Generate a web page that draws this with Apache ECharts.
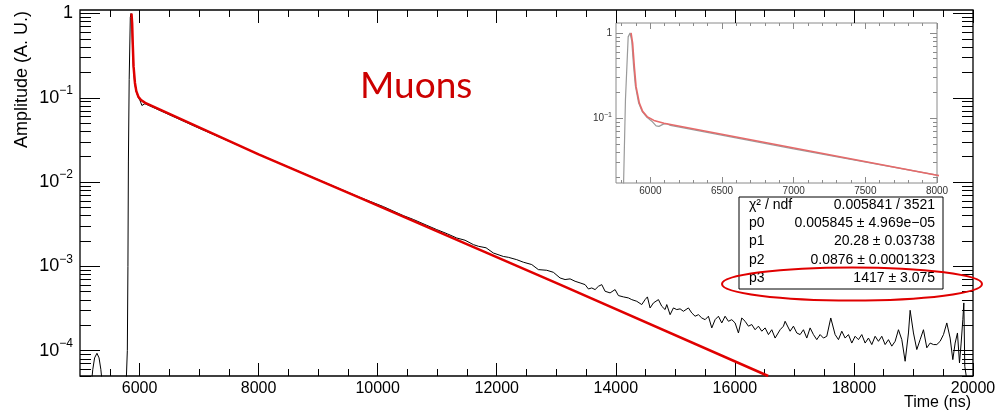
<!DOCTYPE html>
<html>
<head>
<meta charset="utf-8">
<title>Muons</title>
<script src="https://cdn.jsdelivr.net/npm/echarts@6.0.0/dist/echarts.min.js"></script>
<style>
html, body { margin: 0; padding: 0; background: #fff; }
#chart { width: 998px; height: 410px; }
</style>
</head>
<body>
<div id="chart"></div>
<script>
// waveform (black trace), time in ns, amplitude in A.U.
const traceTime = [
  5100, 5190, 5215, 5245, 5285, 5320, 5350, 5375, 5775, 5795, 5805, 5813, 5826, 5845, 5858,
  5870, 5882, 5895, 5918, 5942, 5976, 6010, 6040, 6060, 6090, 6115, 6140, 7000, 8000, 9000,
  9700, 10100, 10431, 10600, 10824, 10992, 11171, 11328, 11468, 11608, 11692, 11821, 11943, 12111, 12195,
  12336, 12447, 12588, 12699, 12840, 12951,
  13064, 13148, 13232, 13316, 13400, 13484, 13540, 13596, 13652, 13708, 13764, 13820, 13904, 13988, 14044,
  14128, 14212, 14268, 14352, 14436, 14492, 14531, 14576, 14632, 14716, 14772, 14828, 14856, 14912, 14968,
  15024, 15080, 15136, 15220, 15276, 15332, 15388, 15444, 15500, 15556, 15612, 15668, 15724, 15780, 15836,
  15892, 15948, 16004, 16060, 16116, 16172, 16228, 16284, 16340, 16396, 16452, 16508, 16564, 16620, 16676,
  16760, 16816, 16844, 16872, 16928, 16984, 17040, 17096, 17152, 17208, 17264, 17320, 17376, 17432, 17488,
  17544, 17611, 17684, 17740, 17796, 17852, 17908, 17964, 18020, 18076, 18132, 18188, 18244, 18300, 18356,
  18412, 18468, 18524, 18580, 18636, 18692, 18748, 18804, 18860, 18916, 18944, 19000, 19056, 19112, 19168,
  19224, 19280, 19336, 19392, 19448, 19504, 19560, 19616, 19661, 19700, 19739, 19773, 19801, 19829, 19846,
  19862, 19896
]
const traceAmp = [
  4e-5, 4e-5, 6e-5, 8.2e-5, 9.3e-5, 8.2e-5, 6e-5, 4e-5, 4e-5, 1e-4, 1e-3, 0.0173, 0.164, 0.9, 1.0,
  0.8, 0.42, 0.24, 0.15, 0.12, 0.102, 0.092, 0.081, 0.08, 0.085, 0.086, 0.082, 0.0435, 0.0214, 0.0107,
  0.0066, 0.0051, 0.0040, 0.0036, 0.00307, 0.00273, 0.00243, 0.00217, 0.00204, 0.00181, 0.00173, 0.00166, 0.00144, 0.00131, 0.00128,
  0.0012, 0.00112, 0.00105, 0.000915, 0.000898, 0.00085,
  7.28e-4, 6.97e-4, 7.10e-4, 6.65e-4, 6.36e-4, 6.07e-4, 5.39e-4, 5.54e-4, 5.30e-4, 5.80e-4, 6.07e-4, 5.06e-4, 4.84e-4, 5.30e-4, 4.50e-4,
  4.34e-4, 4.22e-4, 4.03e-4, 3.85e-4, 3.52e-4, 4.03e-4, 4.34e-4, 3.21e-4, 3.68e-4, 4.03e-4, 3.36e-4, 3.07e-4, 3.52e-4, 2.67e-4, 3.21e-4,
  3.07e-4, 3.13e-4, 2.93e-4, 3.21e-4, 2.80e-4, 2.56e-4, 2.67e-4, 2.44e-4, 2.33e-4, 2.56e-4, 1.86e-4, 2.33e-4, 2.56e-4, 2.13e-4, 2.56e-4,
  2.23e-4, 2.33e-4, 2.13e-4, 1.62e-4, 2.44e-4, 2.23e-4, 1.95e-4, 2.04e-4, 1.77e-4, 1.95e-4, 1.70e-4, 1.86e-4, 1.55e-4, 1.77e-4, 1.41e-4,
  1.77e-4, 1.95e-4, 2.23e-4, 2.13e-4, 1.70e-4, 1.95e-4, 1.62e-4, 1.55e-4, 1.77e-4, 1.41e-4, 1.86e-4, 1.55e-4, 1.35e-4, 1.55e-4, 1.41e-4,
  1.48e-4, 2.44e-4, 1.55e-4, 1.35e-4, 1.70e-4, 1.41e-4, 1.55e-4, 1.23e-4, 1.48e-4, 1.35e-4, 1.55e-4, 1.23e-4, 1.41e-4, 1.18e-4, 1.48e-4,
  1.29e-4, 1.48e-4, 1.18e-4, 1.35e-4, 1.13e-4, 1.29e-4, 1.77e-4, 1.35e-4, 7.48e-5, 1.62e-4, 3.01e-4, 1.62e-4, 1.03e-4, 1.35e-4, 1.77e-4,
  1.08e-4, 1.23e-4, 1.18e-4, 1.18e-4, 1.29e-4, 1.55e-4, 2.13e-4, 1.41e-4, 7.82e-5, 1.23e-4, 1.62e-4, 7.14e-5, 1.23e-4, 2.33e-4, 3.68e-4,
  6.52e-5, 4.5e-5
]

// fit (red curve)
const fitTime = [5865, 5876, 5888, 5900, 5923, 5946, 5980, 6025, 6095, 8000, 9704, 13064, 16560]
const fitAmp = [1.0, 0.76, 0.40, 0.234, 0.15, 0.12, 0.103, 0.094, 0.087, 0.0213, 0.0065, 6.07e-4, 5.0e-5]

// tick labels
const xTickLabels = [6000, 8000, 10000, 12000, 14000, 16000, 18000, 20000]
const yTickLabels = [1e-4, 1e-3, 1e-2, 1e-1, 1]
const insetXTickLabels = [6000, 6500, 7000, 7500, 8000]
const insetYTickLabels = [0.1, 1]

// fit results box
const statNames = ['χ² / ndf', 'p0', 'p1', 'p2', 'p3']
const statValues = ['0.005841 / 3521', '0.005845 ± 4.969e−05', '20.28 ± 0.03738', '0.0876 ± 0.0001323', '1417 ± 3.075']

const FONT = 'Liberation Sans'

const traceData = traceTime.map((t, i) => [t, traceAmp[i]])
const fitData = fitTime.map((t, i) => [t, fitAmp[i]])

// 10^n labels
const powLabel = v => {
  const e = Math.round(Math.log10(v))
  return e === 0 ? '{b|1}' : '{b|10}{s|−' + (-e) + '}'
}
// plain numbers, no thousands separator
const plainLabel = v => String(Math.round(v))

// minor ticks 2..9 x 10^n on a log axis
const logMinors = (lo, hi) => {
  const out = []
  for (let e = Math.floor(Math.log10(lo)) - 1; e <= Math.ceil(Math.log10(hi)); e++) {
    for (let m = 2; m <= 9; m++) {
      const v = m * Math.pow(10, e)
      if (v >= lo && v <= hi) out.push(v)
    }
  }
  return out
}

const range = (lo, hi, step) => {
  const out = []
  for (let v = lo; v <= hi + 1e-9; v += step) out.push(v)
  return out
}

// four axes per dimension: major/minor ticks on both sides, labels only on the first
const makeAxes = (type, sides, grid, min, max, major, minor, majorLen, minorLen, color, label) => {
  const mk = (position, ticks, len, withLabel) => ({
    type, gridIndex: grid, position, min, max,
    axisLine: { show: false, onZero: false },
    axisTick: { show: true, inside: true, length: len, customValues: ticks, lineStyle: { color, width: 1 } },
    axisLabel: withLabel ? Object.assign({ show: true, customValues: major }, label) : { show: false },
    splitLine: { show: false },
    axisPointer: { show: false }
  })
  return [
    mk(sides[0], major, majorLen, true),
    mk(sides[0], minor, minorLen, false),
    mk(sides[1], major, majorLen, false),
    mk(sides[1], minor, minorLen, false)
  ]
}

const mainX = makeAxes('value', ['bottom', 'top'], 0, 5000, 20000, xTickLabels, range(5500, 20000, 500), 13, 7, '#000', {
  fontFamily: FONT, fontSize: 16, color: '#000', margin: 5, formatter: plainLabel
})
const mainY = makeAxes('log', ['left', 'right'], 0, 5e-5, 1.1, yTickLabels, logMinors(5e-5, 1.1), 20, 11, '#000', {
  margin: 7,
  formatter: powLabel,
  rich: {
    b: { fontFamily: FONT, fontSize: 18, color: '#000', lineHeight: 26 },
    s: { fontFamily: FONT, fontSize: 12, color: '#000', lineHeight: 12, verticalAlign: 'top' }
  }
})
const insetX = makeAxes('value', ['bottom', 'top'], 1, 5760, 8000, insetXTickLabels, range(5800, 8000, 100), 6, 3, '#8a8a8a', {
  fontFamily: FONT, fontSize: 10, color: '#333', margin: 3, formatter: plainLabel
})
const insetY = makeAxes('log', ['left', 'right'], 1, 0.0173, 1.31, insetYTickLabels, logMinors(0.0173, 1.31), 7, 4, '#8a8a8a', {
  margin: 4,
  formatter: powLabel,
  rich: {
    b: { fontFamily: FONT, fontSize: 10, color: '#333', lineHeight: 14 },
    s: { fontFamily: FONT, fontSize: 7, color: '#333', lineHeight: 7, verticalAlign: 'top' }
  }
})

const statsGraphics = [
  { type: 'rect', z: 50, shape: { x: 739, y: 197, width: 204, height: 92 }, style: { fill: '#fff', stroke: '#000', lineWidth: 1 } }
]
statNames.forEach((name, i) => {
  const y = 205 + i * 18.3
  statsGraphics.push({
    type: 'text', z: 51, x: 749, y,
    style: { text: name, font: '14px "' + FONT + '"', fill: '#000', align: 'left', textAlign: 'left', verticalAlign: 'middle', textVerticalAlign: 'middle' }
  })
  statsGraphics.push({
    type: 'text', z: 51, x: 935, y,
    style: { text: statValues[i], font: '14px "' + FONT + '"', fill: '#000', align: 'right', textAlign: 'right', verticalAlign: 'middle', textVerticalAlign: 'middle' }
  })
})

const chart = echarts.init(document.getElementById('chart'), null, { renderer: 'canvas' })

chart.setOption({
  animation: false,
  backgroundColor: '#fff',
  grid: [
    { left: 80, top: 10, width: 893, height: 366, show: true, borderColor: '#000', borderWidth: 1.3, backgroundColor: 'transparent', outerBoundsMode: 'none' },
    { left: 616, top: 23, width: 321, height: 160, show: true, borderColor: '#8a8a8a', borderWidth: 1, backgroundColor: '#fff', outerBoundsMode: 'none' }
  ],
  xAxis: mainX.concat(insetX),
  yAxis: mainY.concat(insetY),
  series: [
    {
      type: 'line', xAxisIndex: 0, yAxisIndex: 0, data: traceData, showSymbol: false, silent: true, z: 2,
      lineStyle: { color: '#000', width: 1 }
    },
    {
      type: 'line', xAxisIndex: 0, yAxisIndex: 0, data: fitData, showSymbol: false, silent: true, z: 3,
      lineStyle: { color: '#e00000', width: 2.5 }
    },
    {
      type: 'line', xAxisIndex: 4, yAxisIndex: 4, data: traceData, showSymbol: false, silent: true, z: 2,
      lineStyle: { color: '#9a9a9a', width: 1.2 }
    },
    {
      type: 'line', xAxisIndex: 4, yAxisIndex: 4, data: fitData, showSymbol: false, silent: true, z: 3,
      lineStyle: { color: '#e66a6a', width: 1.6 }
    }
  ],
  graphic: [
    {
      type: 'text', x: 22, y: 11, rotation: Math.PI / 2,
      style: { text: 'Amplitude (A. U.)', font: '18px "' + FONT + '"', fill: '#000', align: 'right', textAlign: 'right', verticalAlign: 'middle', textVerticalAlign: 'middle' }
    },
    {
      type: 'text', x: 971, y: 403,
      style: { text: 'Time (ns)', font: '16px "' + FONT + '"', fill: '#000', align: 'right', textAlign: 'right', verticalAlign: 'middle', textVerticalAlign: 'middle' }
    },
    {
      type: 'text', x: 360, y: 86,
      style: { text: 'Muons', font: '37px Lato', fill: '#cc0000', align: 'left', textAlign: 'left', verticalAlign: 'middle', textVerticalAlign: 'middle' }
    },
    ...statsGraphics,
    {
      type: 'ellipse', z: 60, shape: { cx: 852, cy: 284, rx: 130, ry: 16.5 },
      style: { fill: 'none', stroke: '#e00000', lineWidth: 2 }
    }
  ]
})

window.addEventListener('resize', () => chart.resize())
</script>
</body>
</html>
